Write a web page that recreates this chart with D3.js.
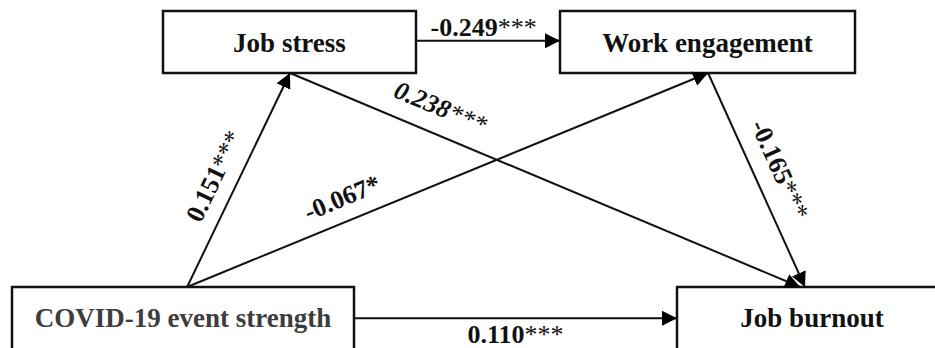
<!DOCTYPE html>
<html>
<head>
<meta charset="utf-8">
<script src="https://cdn.jsdelivr.net/npm/d3@7"></script>
<style>
  body { margin: 0; background: #fff; }
  svg { display: block; }
</style>
</head>
<body>
<svg id="model"></svg>
<script>
var width = 935;
var height = 348;

// data
var nodeNames = ['Job stress', 'Work engagement', 'COVID-19 event strength', 'Job burnout'];
var pathSources = ['Job stress', 'COVID-19 event strength', 'COVID-19 event strength', 'Job stress', 'Work engagement', 'COVID-19 event strength'];
var pathTargets = ['Work engagement', 'Job stress', 'Work engagement', 'Job burnout', 'Job burnout', 'Job burnout'];
var pathCoefs = ['-0.249', '0.151', '-0.067', '0.238', '-0.165', '0.110'];
var pathStars = ['***', '***', '*', '***', '***', '***'];

// layout (boxes and where each path leaves / enters)
var boxes = {
  'Job stress': { x: 163, y: 11, w: 253, h: 62, color: '#111' },
  'Work engagement': { x: 560, y: 11, w: 295, h: 62, color: '#111' },
  'COVID-19 event strength': { x: 12, y: 287, w: 342, h: 80, color: '#3d3d3d' },
  'Job burnout': { x: 677, y: 287, w: 270, h: 80, color: '#111' }
};
// anchor as fraction of box width / height
var anchors = [
  { s: [1, 0.48], t: [0, 0.48] },
  { s: [0.512, 0], t: [0.502, 1] },
  { s: [0.512, 0], t: [0.502, 1] },
  { s: [0.502, 1], t: [0.456, 0] },
  { s: [0.502, 1], t: [0.474, 0] },
  { s: [1, 0.39], t: [0, 0.39] }
];
// label position along the path (t) and offset from the line (baseline)
var labelPos = [
  { t: 0.47, off: -5, rotate: false, italic: false },
  { t: 0.47, off: -15, rotate: true, italic: false },
  { t: 0.315, off: -15, rotate: true, italic: false },
  { t: 0.275, off: -18, rotate: true, italic: true },
  { t: 0.5, off: -17, rotate: true, italic: false },
  { t: 0.5, off: 25, rotate: false, italic: false }
];

var fontFamily = "'Liberation Serif', 'Times New Roman', serif";

var svg = d3.select('#model')
  .attr('width', width)
  .attr('height', height);

svg.append('defs').append('marker')
  .attr('id', 'arrow')
  .attr('viewBox', '0 -8 15 16')
  .attr('refX', 15)
  .attr('refY', 0)
  .attr('markerUnits', 'userSpaceOnUse')
  .attr('markerWidth', 15)
  .attr('markerHeight', 16)
  .attr('orient', 'auto')
  .append('path')
  .attr('d', 'M0,-7.5L15,0L0,7.5Z')
  .attr('fill', '#000');

function anchorPoint(name, a) {
  var b = boxes[name];
  return [b.x + a[0] * b.w, b.y + a[1] * b.h];
}

var paths = pathSources.map((s, i) => {
  var p0 = anchorPoint(s, anchors[i].s);
  var p1 = anchorPoint(pathTargets[i], anchors[i].t);
  return { p0: p0, p1: p1, coef: pathCoefs[i], stars: pathStars[i], pos: labelPos[i] };
});

// boxes
var node = svg.selectAll('g.node')
  .data(nodeNames)
  .enter()
  .append('g')
  .classed('node', true);

node.append('rect')
  .attr('x', d => boxes[d].x)
  .attr('y', d => boxes[d].y)
  .attr('width', d => boxes[d].w)
  .attr('height', d => boxes[d].h)
  .attr('fill', '#fff')
  .attr('stroke', '#111')
  .attr('stroke-width', 2.5);

node.append('text')
  .attr('x', d => d === 'Job burnout' ? 812 : boxes[d].x + boxes[d].w / 2)
  .attr('y', d => boxes[d].y + (boxes[d].h > 70 ? 40 : 41))
  .attr('text-anchor', 'middle')
  .style('font-family', fontFamily)
  .style('font-weight', 'bold')
  .style('font-size', '27px')
  .attr('fill', d => boxes[d].color)
  .text(d => d);

// arrows
svg.selectAll('line.path')
  .data(paths)
  .enter()
  .append('line')
  .classed('path', true)
  .attr('x1', d => d.p0[0])
  .attr('y1', d => d.p0[1])
  .attr('x2', d => d.p1[0])
  .attr('y2', d => d.p1[1])
  .attr('stroke', '#111')
  .attr('stroke-width', 2)
  .attr('marker-end', 'url(#arrow)');

// coefficients
var label = svg.selectAll('text.coef')
  .data(paths)
  .enter()
  .append('text')
  .classed('coef', true)
  .attr('transform', d => {
    var x = d.p0[0] + (d.p1[0] - d.p0[0]) * d.pos.t;
    var y = d.p0[1] + (d.p1[1] - d.p0[1]) * d.pos.t;
    var angle = d.pos.rotate ? Math.atan2(d.p1[1] - d.p0[1], d.p1[0] - d.p0[0]) * 180 / Math.PI : 0;
    return 'translate(' + x + ',' + y + ') rotate(' + angle + ')';
  })
  .attr('y', d => d.pos.off)
  .attr('text-anchor', 'middle')
  .style('font-family', fontFamily)
  .style('font-size', '26px')
  .style('font-style', d => d.pos.italic ? 'italic' : 'normal')
  .attr('fill', '#111');

label.append('tspan')
  .style('font-weight', 'bold')
  .text(d => d.coef);

label.append('tspan')
  .style('font-weight', d => d.stars.length === 1 ? 'bold' : 'normal')
  .text(d => d.stars);
</script>
</body>
</html>
